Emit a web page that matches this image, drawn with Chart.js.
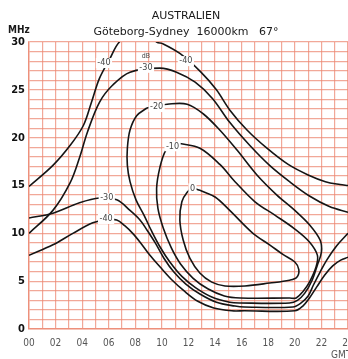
<!DOCTYPE html>
<html><head><meta charset="utf-8">
<script src="https://cdn.jsdelivr.net/npm/chart.js@4.4.0/dist/chart.umd.min.js"></script>
<style>html,body{margin:0;padding:0;background:#fff;overflow:hidden}canvas{display:block}</style>
</head><body>
<canvas id="c" width="348" height="359"></canvas>
<script>
// ---- texts ----
const titleText = 'AUSTRALIEN';
const subtitleText = 'Göteborg-Sydney  16000km   67°';
const yUnit = 'MHz';
const xUnit = 'GMT';
const xTickLabels = ['00','02','04','06','08','10','12','14','16','18','20','22','24'];
const yTickLabels = ['0','5','10','15','20','25','30'];

// ---- contour lines: [hour GMT, MHz] ----
const m40Upper = [[0,14.9],[1.8,17.1],[3.1,19.2],[4.1,21.3],[4.7,23.7],[5.3,26.2],[6.1,28.3],[6.8,30],[8.2,31.4],[9.6,30],[10.1,29.8],[11.35,28.8],[12.9,26.9],[14.1,25],[15.1,22.9],[16.4,20.8],[17.9,18.9],[19.5,17.2],[21,16.1],[22.3,15.4],[23.4,15.1],[24,15]];
const m30Upper = [[0,10.0],[1.8,12.4],[3.1,15.3],[3.8,17.9],[4.4,20.6],[5.3,23.7],[6.3,25.5],[7.6,26.85],[9.85,27.27],[11.1,26.85],[12.5,25.8],[13.8,24.1],[15.1,21.6],[16.6,19.2],[18.1,17.1],[19.6,15.4],[21.1,13.9],[22.6,12.8],[24,12.2]];
const m20Loop = [[8.87,23.1],[8.1,22.3],[7.6,20.8],[7.4,18.9],[7.4,17.1],[7.6,15.4],[8.05,13.5],[8.65,11.9],[9.2,10.3],[9.85,8.6],[10.6,7.0],[11.5,5.5],[12.55,4.3],[13.75,3.35],[15.1,2.8],[15.9,2.72],[19.6,2.72],[20.2,3.0],[20.75,3.75],[21.3,5.1],[21.7,6.7],[22.0,8.05],[21.9,9.3],[21.1,10.9],[20.0,12.4],[18.65,14.0],[17.15,16.1],[15.65,18.7],[14.35,20.8],[13.1,22.5],[11.9,23.5],[10.4,23.5],[9.6,23.3],[8.87,23.1]];
const m10Loop = [[11.35,19.4],[12.86,18.9],[14.36,17.2],[15.5,15.4],[17.0,13.3],[18.5,11.9],[20.0,10.45],[21.1,9.1],[21.7,7.7],[21.6,6.5],[21.1,4.9],[20.6,3.9],[20.1,3.24],[19.6,3.24],[15.9,3.24],[14.7,3.45],[13.45,4.2],[12.35,5.3],[11.4,6.8],[10.7,8.5],[10.1,10.55],[9.7,12.6],[9.6,14.7],[9.85,16.9],[10.3,18.7],[10.8,19.1],[11.35,19.4]];
const zeroLoop = [[12.86,14.5],[14.0,13.8],[15.1,12.4],[16.85,10.0],[18.1,8.8],[19.1,7.8],[20.0,7.0],[20.3,6.2],[20.15,5.4],[19.6,5.1],[18.1,4.8],[16.25,4.5],[14.75,4.5],[13.75,4.9],[12.85,5.85],[12.1,7.4],[11.6,9.3],[11.35,11.4],[11.5,13.3],[11.9,14.3],[12.3,14.7],[12.86,14.5]];
const m30Lower = [[0,11.6],[1.8,12.1],[3.8,13.2],[5.3,13.7],[6.6,13.5],[7.6,12.4],[8.35,11.4],[8.9,10.3],[9.5,9.0],[10.15,7.4],[10.9,5.95],[11.8,4.7],[12.86,3.66],[14.1,2.8],[15.5,2.4],[16.2,2.3],[19.85,2.3],[20.45,2.7],[21.0,3.45],[21.4,4.6],[21.9,5.95],[22.4,7.2],[23.15,8.7],[24,10.0]];
const m40Lower = [[0,7.7],[1.8,8.8],[3.3,10.0],[4.8,11.1],[5.7,11.4],[6.6,11.4],[7.2,10.8],[7.8,10.0],[8.4,9.0],[9.1,7.7],[9.85,6.5],[10.7,5.2],[11.65,4.0],[12.7,2.9],[13.9,2.2],[15.25,1.9],[16.2,1.9],[20,1.9],[20.6,2.4],[21.1,3.24],[21.65,4.4],[22.25,5.65],[22.85,6.6],[23.45,7.2],[24,7.5]];

// contour value labels: text, hour, MHz
const contourLabels = [
  ['-40',5.64,27.8],['dB',8.8,28.5],['-30',8.8,27.3],['-40',11.8,28.0],
  ['-20',9.6,23.2],['-10',10.8,19.1],['0',12.3,14.7],['-30',5.85,13.7],['-40',5.8,11.5]
];

const lines = [m40Upper, m30Upper, m20Loop, m10Loop, zeroLoop, m30Lower, m40Lower];

const GRID = 'rgba(236,135,112,0.72)';
const FONT = '"DejaVu Sans Condensed","DejaVu Sans",sans-serif';
const toXY = a => a.map(p => ({x:p[0], y:p[1]}));

const overlay = {
  id:'overlay',
  afterDatasetsDraw(chart){
    const {ctx, scales:{x,y}} = chart;
    ctx.save();
    ctx.textAlign='center'; ctx.textBaseline='middle';
    contourLabels.forEach(([t,h,f])=>{
      const px=x.getPixelForValue(h), py=y.getPixelForValue(f);
      const small = t==='dB';
      ctx.font = (small?'7px ':'9px ')+FONT;
      const w = ctx.measureText(t).width+3;
      if(!small){ctx.fillStyle='#fff';ctx.fillRect(px-w/2,py-5,w,10);}
      ctx.fillStyle='#444';
      ctx.fillText(t,px,py);
    });
    ctx.restore();
  },
  afterDraw(chart){
    const {ctx, chartArea:ca} = chart;
    ctx.save();
    ctx.fillStyle='#1a1a1a';
    ctx.textAlign='center'; ctx.textBaseline='alphabetic';
    ctx.font='11px "DejaVu Sans",sans-serif';
    ctx.fillText(titleText, 186, 19);
    ctx.font='11px "DejaVu Sans",sans-serif';
    ctx.fillText(subtitleText, 186, 35);
    ctx.textAlign='left';
    ctx.font='bold 10px '+FONT;
    ctx.fillText(yUnit, 8, 33);
    ctx.fillStyle='#555';
    ctx.font='10px '+FONT;
    ctx.fillText(xUnit, ca.right-17, 358);
    ctx.restore();
  }
};

new Chart(document.getElementById('c'), {
  type:'scatter',
  data:{datasets: lines.map(l=>({
    data:toXY(l), showLine:true, pointRadius:0, borderColor:'#151515', borderWidth:1.6,
    tension:0.35, fill:false
  }))},
  options:{
    responsive:false, animation:false, devicePixelRatio:1,
    layout:{padding:{top:42,left:0,right:0,bottom:0}},
    plugins:{legend:{display:false}, tooltip:{enabled:false}},
    scales:{
      x:{type:'linear', min:0, max:24,
        grid:{color:GRID, lineWidth:1.2, drawTicks:false},
        border:{color:GRID, width:1.5},
        ticks:{stepSize:1, autoSkip:false, maxRotation:0, padding:8, color:'#555',
          font:{family:FONT, size:10},
          callback:v=> (v%2===0 ? xTickLabels[v/2] : '')},
        afterFit(s){ s.height=30; s.paddingLeft=0; s.paddingRight=0; }
      },
      y:{type:'linear', min:0, max:30,
        grid:{color:GRID, lineWidth:1.2, drawTicks:false},
        border:{color:GRID, width:1.5},
        ticks:{stepSize:1, autoSkip:false, padding:4, color:'#111',
          font:{family:FONT, size:11, weight:'bold'},
          callback:v=> (v%5===0 ? yTickLabels[v/5] : '')},
        afterFit(s){ s.width=29; s.paddingTop=0; s.paddingBottom=0; }
      }
    }
  },
  plugins:[overlay]
});
</script>
</body></html>
